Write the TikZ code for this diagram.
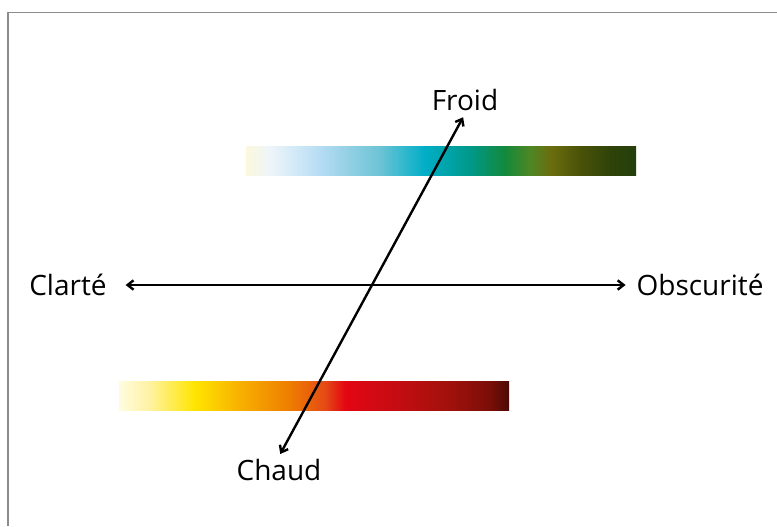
\documentclass[tikz,border=0pt]{standalone}
\usepackage{fontspec}
\setmainfont{Open Sans}
\usetikzlibrary{arrows.meta, positioning}

% cold bar colours
\definecolor{fa}{HTML}{FBF8DC}
\definecolor{fb}{HTML}{EEF5FA}
\definecolor{fc}{HTML}{B5DCF3}
\definecolor{fd}{HTML}{6CC3D5}
\definecolor{fe}{HTML}{00AEC7}
\definecolor{ff}{HTML}{00998A}
\definecolor{fg}{HTML}{13893B}
\definecolor{fh}{HTML}{4E8624}
\definecolor{fi}{HTML}{6B6E0E}
\definecolor{fj}{HTML}{4A5208}
\definecolor{fk}{HTML}{2F4309}
\definecolor{fl}{HTML}{243F0B}
% warm bar colours
\definecolor{ca}{HTML}{FFFBE0}
\definecolor{cb}{HTML}{FFF2A0}
\definecolor{cc}{HTML}{FFE500}
\definecolor{cd}{HTML}{F8B000}
\definecolor{ce}{HTML}{EE7D00}
\definecolor{cf}{HTML}{E54A16}
\definecolor{cg}{HTML}{E30613}
\definecolor{ch}{HTML}{C20D12}
\definecolor{ci}{HTML}{A0110C}
\definecolor{cj}{HTML}{7A0E08}
\definecolor{ck}{HTML}{4B0A05}

\pgfdeclarehorizontalshading{froidshade}{100bp}{color(0bp)=(fa); color(25bp)=(fa);
  color(28.1bp)=(fb); color(34.5bp)=(fc); color(42.2bp)=(fd); color(47.9bp)=(fe);
  color(53.7bp)=(ff); color(58.2bp)=(fg); color(61.4bp)=(fh); color(64bp)=(fi);
  color(67.8bp)=(fj); color(71.7bp)=(fk); color(75bp)=(fl); color(100bp)=(fl)}
\pgfdeclarehorizontalshading{chaudshade}{100bp}{color(0bp)=(ca); color(25bp)=(ca);
  color(29bp)=(cb); color(34.7bp)=(cc); color(40.5bp)=(cd); color(46.9bp)=(ce);
  color(51.4bp)=(cf); color(54bp)=(cg); color(61bp)=(ch); color(67.4bp)=(ci);
  color(72.6bp)=(cj); color(75bp)=(ck); color(100bp)=(ck)}

\begin{document}
\begin{tikzpicture}[
    x=0.75pt, y=-0.75pt,
    word/.style={font=\fontsize{21}{25}\selectfont, inner sep=2pt},
    bar/.style={minimum width=292.5pt, minimum height=21.75pt, inner sep=0pt},
    arrow/.style={{Straight Barb[length=4.5pt, width=7pt]}-{Straight Barb[length=4.5pt, width=7pt]}, line width=1.8pt}
]
\useasboundingbox (0,0) rectangle (777,526);
\draw[black!45, line width=1.1pt] (8,526) -- (8,12.5) -- (777,12.5);

\node[bar, shading=froidshade] (froidbar) at (441,160.5) {};
\node[bar, shading=chaudshade] (chaudbar) at (314,396) {};

\node[word] (froid) at (465,100) {Froid};
\node[word] (chaud) at (279,470) {Chaud};
\node[word] (clarte) at (68,285) {Clarté};
\node[word] (obscur) at (700,285) {Obscurité};

\draw[arrow, shorten <=12pt, shorten >=6pt] (clarte) -- (obscur);
\draw[arrow, shorten <=2pt, shorten >=3pt] (chaud.north) -- (froid.south);
\end{tikzpicture}
\end{document}
